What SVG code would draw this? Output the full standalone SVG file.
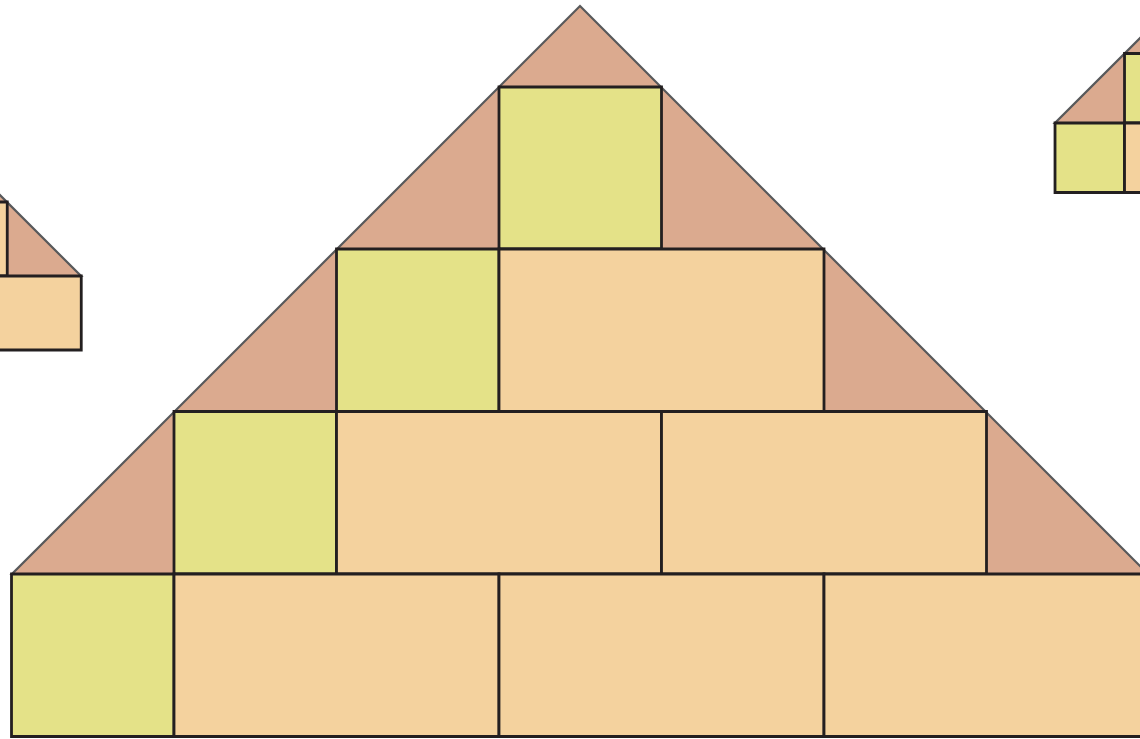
<svg xmlns="http://www.w3.org/2000/svg" xmlns:xlink="http://www.w3.org/1999/xlink" width="1140" height="739" viewBox="0 0 1140 739">
<style>
.roof{fill:#dbaa8f;stroke:#58595b;stroke-width:2.2;vector-effect:non-scaling-stroke;stroke-linejoin:miter}
.y{fill:#e4e288;stroke:#231f20;stroke-width:2.8;vector-effect:non-scaling-stroke}
.t{fill:#f4d29e;stroke:#231f20;stroke-width:2.8;vector-effect:non-scaling-stroke}
</style>
<defs>
<g id="rows3">
<rect class="y" x="499" y="87" width="162.5" height="162"/>
<rect class="y" x="336.5" y="249" width="162.5" height="162.5"/>
<rect class="t" x="499" y="249" width="325" height="162.5"/>
<rect class="y" x="174" y="411.5" width="162.5" height="162.5"/>
<rect class="t" x="336.5" y="411.5" width="325" height="162.5"/>
<rect class="t" x="661.5" y="411.5" width="325" height="162.5"/>
</g>
<g id="small">
<polygon class="roof" points="580,6 986,411.5 174,411.5"/>
<use xlink:href="#rows3"/>
</g>
</defs>
<g id="pyramid-left"><use xlink:href="#small" transform="translate(-368,88.6) scale(0.4554)"/></g>
<g id="pyramid-right"><use xlink:href="#small" transform="translate(980.6,-53) scale(0.4277)"/></g>
<g id="pyramid-main">
<polygon class="roof" points="580,6 1148,574 12,574"/>
<use xlink:href="#rows3"/>
<rect class="y" x="11.5" y="574" width="162.5" height="162.5"/>
<rect class="t" x="174" y="574" width="325" height="162.5"/>
<rect class="t" x="499" y="574" width="325" height="162.5"/>
<rect class="t" x="824" y="574" width="325" height="162.5"/>
</g>
<g id="connectors"/>
</svg>
